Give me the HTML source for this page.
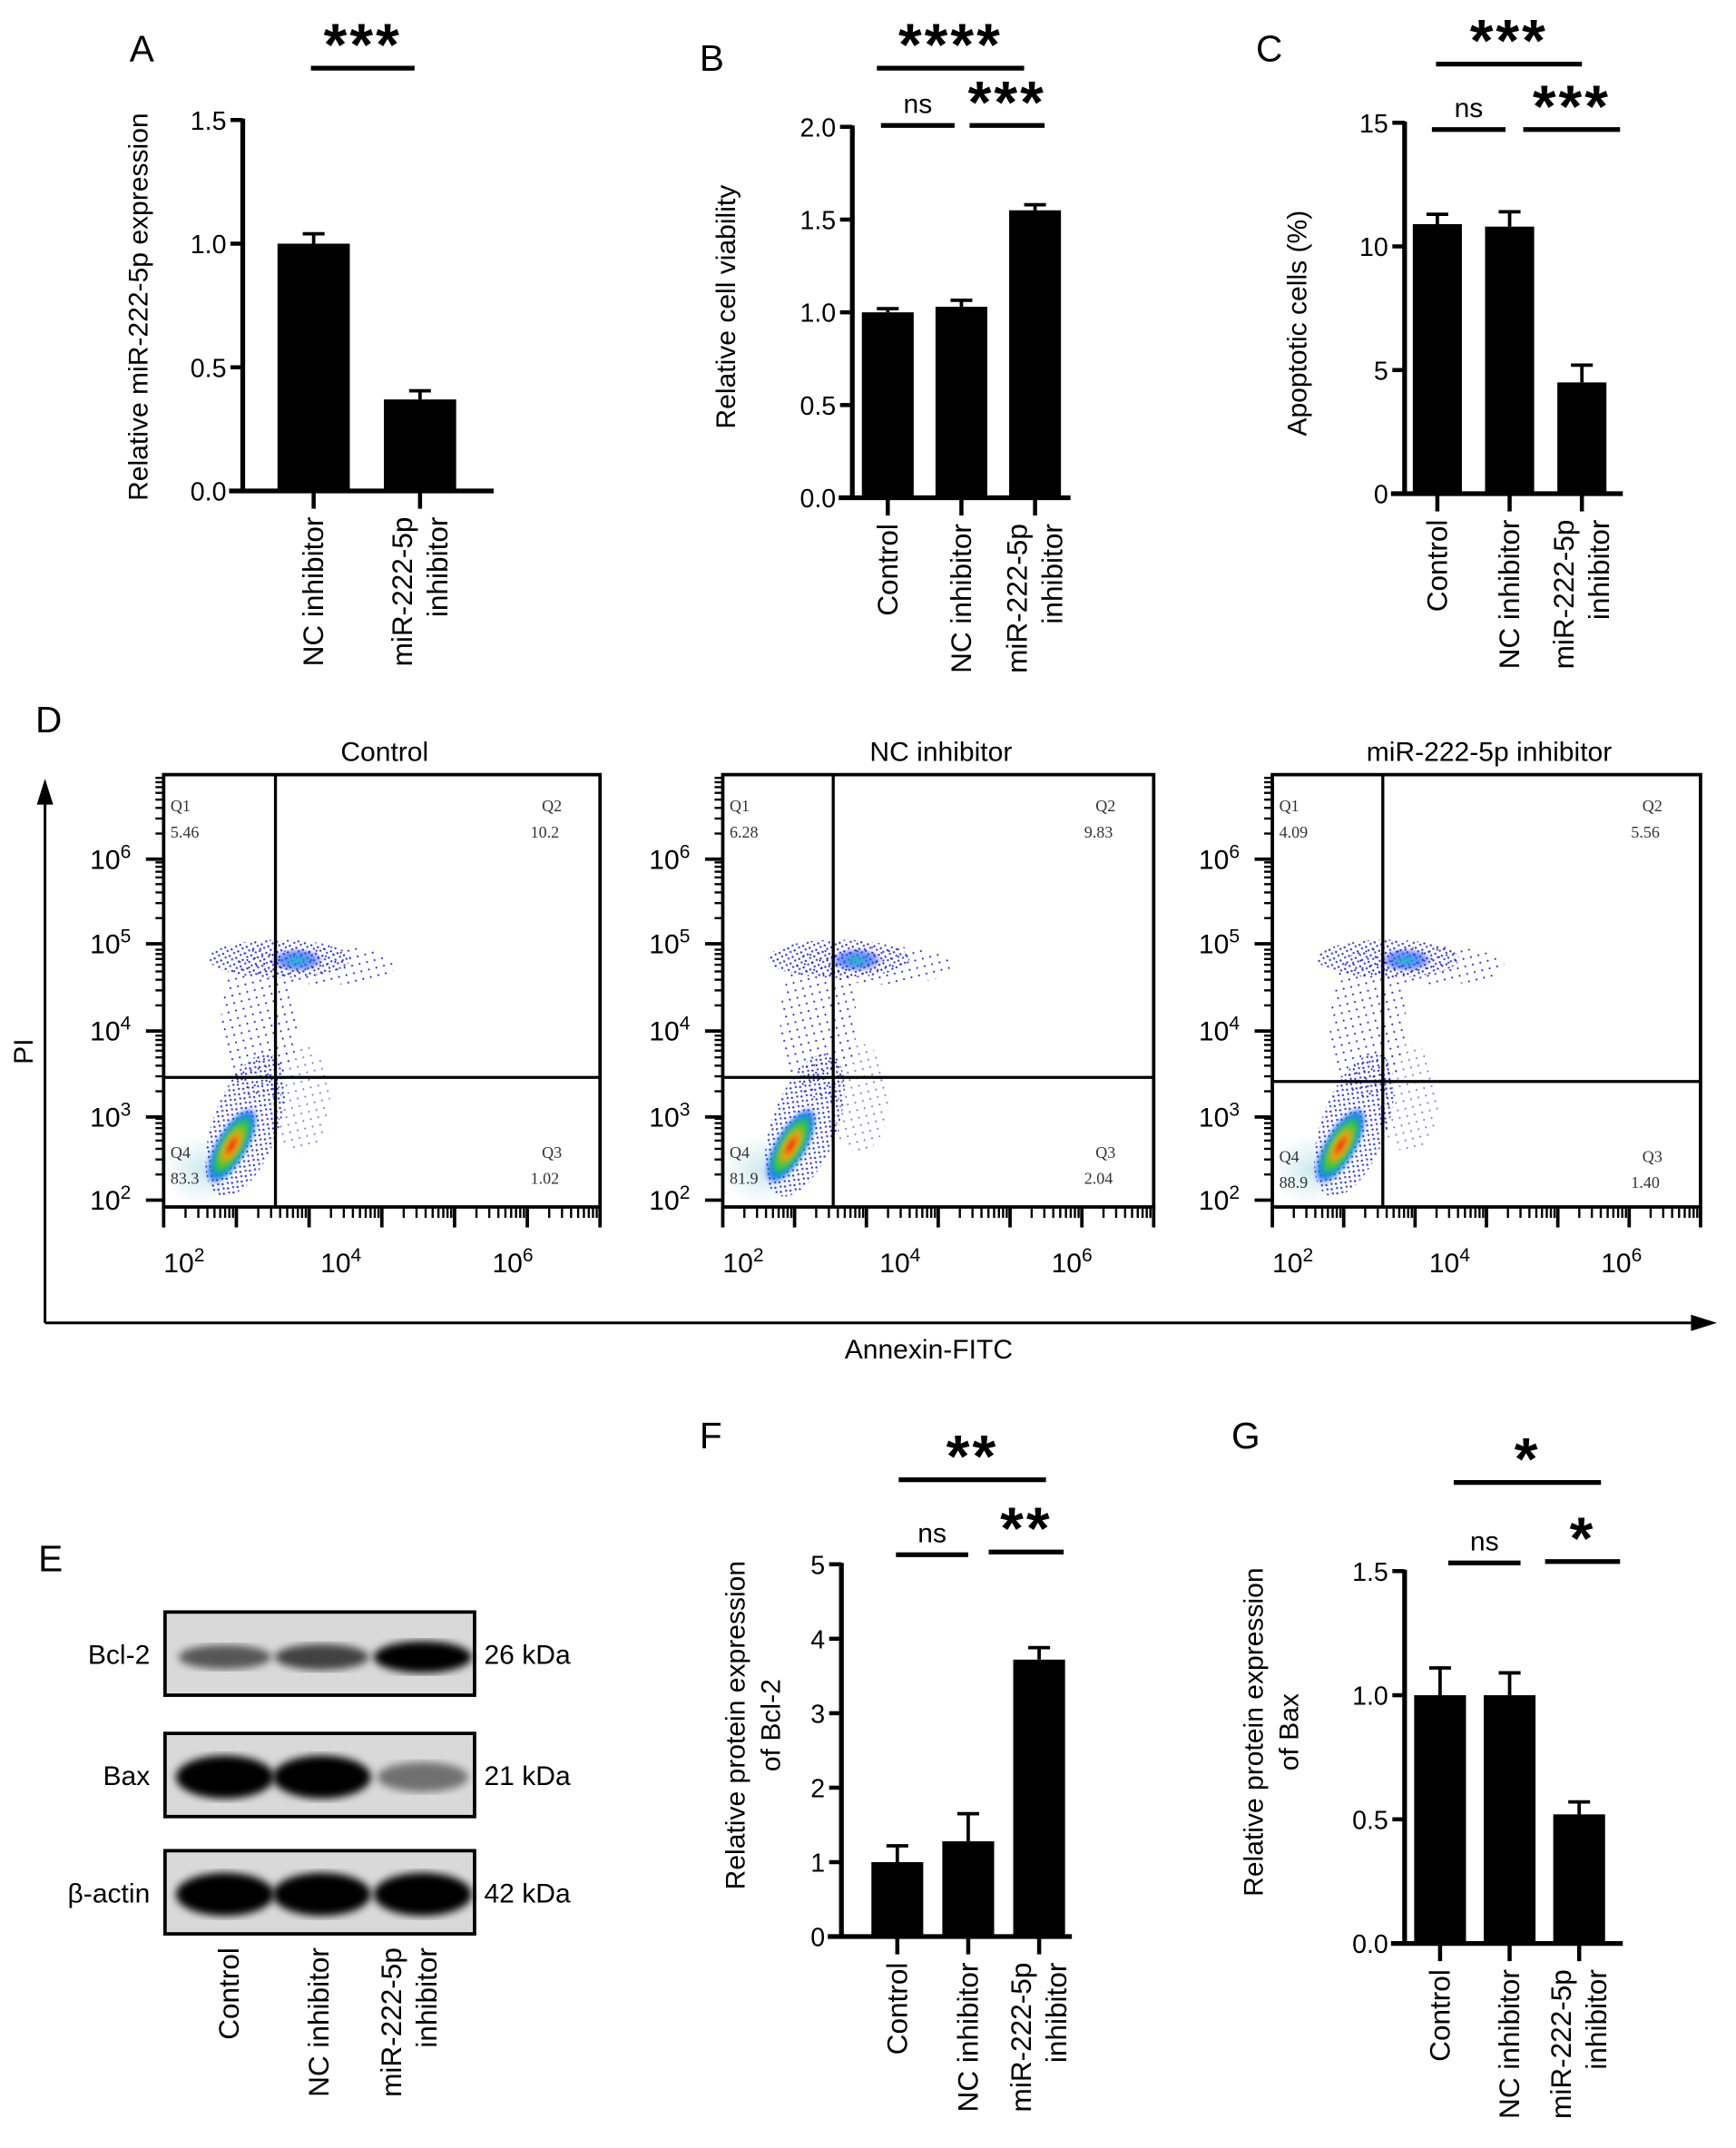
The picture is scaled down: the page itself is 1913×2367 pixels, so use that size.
<!DOCTYPE html>
<html><head><meta charset="utf-8"><style>
html,body{margin:0;padding:0;background:#fff;}
svg{display:block;font-family:"Liberation Sans",sans-serif;}
</style></head><body>
<svg id="fig" width="1913" height="2367" viewBox="0 0 1273 1575" preserveAspectRatio="none" xmlns="http://www.w3.org/2000/svg">
<defs>
<pattern id="dots" width="5" height="5" patternUnits="userSpaceOnUse" patternTransform="rotate(17)"><circle cx="1" cy="1" r="0.8" fill="#1a1aee"/><circle cx="3.5" cy="3" r="0.8" fill="#2233dd"/></pattern>
<pattern id="dotsS" width="8" height="8" patternUnits="userSpaceOnUse" patternTransform="rotate(31)"><circle cx="2" cy="2" r="0.7" fill="#2222ee"/><circle cx="6" cy="6" r="0.7" fill="#2222ee"/></pattern>
<radialGradient id="core"><stop offset="0" stop-color="#ee1111"/><stop offset="0.3" stop-color="#f0a010"/><stop offset="0.55" stop-color="#33cc33"/><stop offset="0.8" stop-color="#1188ee"/><stop offset="1" stop-color="#2222ee" stop-opacity="0"/></radialGradient>
<radialGradient id="haze"><stop offset="0" stop-color="#cfe9f0"/><stop offset="1" stop-color="#cfe9f0" stop-opacity="0"/></radialGradient>
<radialGradient id="upcore"><stop offset="0" stop-color="#22bbcc"/><stop offset="0.6" stop-color="#2255ee" stop-opacity="0.6"/><stop offset="1" stop-color="#2222ee" stop-opacity="0"/></radialGradient>
<filter id="blur"><feGaussianBlur stdDeviation="3"/></filter>
<filter id="blur2"><feGaussianBlur stdDeviation="1.5"/></filter>
</defs>
<g id="root"></g>
</svg>
<script>
// ---- Panel A data ----
const catsA = ["NC inhibitor", "miR-222-5p|inhibitor"];
const valsA = [1.0, 0.37];
const errA = [0.04, 0.035];
const ticksA = [0, 0.5, 1.0, 1.5];
// ---- Panel B data ----
const catsB = ["Control", "NC inhibitor", "miR-222-5p|inhibitor"];
const valsB = [1.0, 1.03, 1.55];
const errB = [0.02, 0.035, 0.03];
const ticksB = [0, 0.5, 1.0, 1.5, 2.0];
// ---- Panel C data ----
const catsC = ["Control", "NC inhibitor", "miR-222-5p|inhibitor"];
const valsC = [10.9, 10.8, 4.5];
const errC = [0.4, 0.6, 0.7];
const ticksC = [0, 5, 10, 15];
// ---- Panel F data ----
const catsF = ["Control", "NC inhibitor", "miR-222-5p|inhibitor"];
const valsF = [1.0, 1.28, 3.72];
const errF = [0.22, 0.37, 0.16];
const ticksF = [0, 1, 2, 3, 4, 5];
// ---- Panel G data ----
const catsG = ["Control", "NC inhibitor", "miR-222-5p|inhibitor"];
const valsG = [1.0, 1.0, 0.52];
const errG = [0.11, 0.09, 0.05];
const ticksG = [0, 0.5, 1.0, 1.5];
// ---- Flow quadrant data ----
const flowTitles = ["Control", "NC inhibitor", "miR-222-5p inhibitor"];
const q1Vals = ["5.46", "6.28", "4.09"];
const q2Vals = ["10.2", "9.83", "5.56"];
const q3Vals = ["1.02", "2.04", "1.40"];
const q4Vals = ["83.3", "81.9", "88.9"];
// ---- Blot band intensities ----
const blotRows = ["Bcl-2", "Bax", "β-actin"];
const blotKDa = ["26 kDa", "21 kDa", "42 kDa"];
const bandBcl2 = [0.5, 0.62, 1.0];
const bandBax = [1.0, 1.0, 0.35];
const bandActin = [1.0, 1.0, 1.0];

const NS = "http://www.w3.org/2000/svg";
const root = document.getElementById("root");
function mk(tag, attrs, parent, text){
  const e = document.createElementNS(NS, tag);
  for (const k in attrs) e.setAttribute(k, attrs[k]);
  if (text !== undefined) e.textContent = text;
  (parent || root).appendChild(e);
  return e;
}
function fmt(t, dec){ return dec ? t.toFixed(1) : String(t); }

function barChart(o){
  const g = mk("g", {});
  
  
  const y = v => o.y0 - (v - o.tmin) / (o.tmax - o.tmin) * (o.y0 - o.y1);
  const xc = i => o.xFirst + i * o.step;
  o.vals.forEach((v, i) => {
    const b = mk("rect", {x: xc(i) - o.bw/2, y: y(v), width: o.bw, height: o.y0 - y(v), fill: "#000"}, g);
    
    
    const top = y(v + o.err[i]);
    const e = mk("path", {d: `M${xc(i)} ${y(v)}V${top}M${xc(i)-8} ${top}H${xc(i)+8}`, stroke: "#000", "stroke-width": 2.5, fill: "none"}, g);
    
    
  });
  const ya = mk("line", {x1: o.ax, y1: o.y1 - 1, x2: o.ax, y2: o.y0, stroke: "#000", "stroke-width": 3.5}, g);
  
  
  const xa = mk("line", {x1: o.ax - 10, y1: o.y0, x2: o.xEnd, y2: o.y0, stroke: "#000", "stroke-width": 3.5}, g);
  
  
  o.ticks.forEach(t => {
    mk("line", {x1: o.ax - 9, y1: y(t), x2: o.ax, y2: y(t), stroke: "#000", "stroke-width": 3}, g);
    const tl = mk("text", {x: o.ax - 12, y: y(t) + 7, "text-anchor": "end", "font-size": 19}, g, fmt(t, o.dec));
    
    
  });
  o.cats.forEach((c, i) => {
    mk("line", {x1: xc(i), y1: o.y0, x2: xc(i), y2: o.y0 + 13, stroke: "#000", "stroke-width": 3}, g);
    const parts = c.split("|");
    parts.forEach((p, j) => {
      const xx = xc(i) + (parts.length === 2 ? (j === 0 ? -6 : 20) : 7);
      const t = mk("text", {x: xx, y: o.y0 + 19, transform: `rotate(-90 ${xx} ${o.y0 + 19})`, "text-anchor": "end", "font-size": 21}, g, p);
      
      
    });
  });
  o.title.forEach((tt, j) => {
    const tx = o.titleX + j * 26;
    const t = mk("text", {x: tx, y: o.titleY, transform: `rotate(-90 ${tx} ${o.titleY})`, "text-anchor": "middle", "font-size": 20}, g, tt);
    
    
  });
  const L = mk("text", {x: o.letter[1], y: o.letter[2], "font-size": 27}, g, o.letter[0]);
  
  
  o.sig.forEach(s => {
    const l = mk("line", {x1: s[0], y1: s[2], x2: s[1], y2: s[2], stroke: "#000", "stroke-width": 3.5}, g);
    
    
    const isNs = s[3] === "ns";
    const t = mk("text", {x: (s[0] + s[1]) / 2, y: isNs ? s[2] - 9 : s[2] - 2, "text-anchor": "middle", "font-size": isNs ? 20 : 44, "font-weight": isNs ? "normal" : "bold", "letter-spacing": isNs ? 0 : 2}, g, s[3]);
    
    
  });
}

barChart({name:"panel-a-chart", vals: valsA, err: errA, cats: catsA, ticks: ticksA, tmin: 0, tmax: 1.5, dec: true,
  ax: 178, y0: 360, y1: 88, xFirst: 230, step: 78, bw: 53, xEnd: 362,
  title: ["Relative miR-222-5p expression"], titleX: 108, titleY: 225, letter: ["A", 95, 45],
  sig: [[228, 304, 50, "***"]]});
barChart({name:"panel-b-chart", vals: valsB, err: errB, cats: catsB, ticks: ticksB, tmin: 0, tmax: 2, dec: true,
  ax: 625, y0: 365, y1: 93, xFirst: 651, step: 54, bw: 38, xEnd: 785,
  title: ["Relative cell viability"], titleX: 539, titleY: 225, letter: ["B", 513, 52],
  sig: [[646, 700, 92, "ns"], [711, 766, 92, "***"], [643, 751, 50, "****"]]});
barChart({name:"panel-c-chart", vals: valsC, err: errC, cats: catsC, ticks: ticksC, tmin: 0, tmax: 15, dec: false,
  ax: 1030, y0: 362, y1: 90, xFirst: 1054, step: 53, bw: 36, xEnd: 1190,
  title: ["Apoptotic cells (%)"], titleX: 958, titleY: 237, letter: ["C", 921, 45],
  sig: [[1050, 1104, 95, "ns"], [1117, 1188, 95, "***"], [1053, 1160, 47, "***"]]});
barChart({name:"panel-f-chart", vals: valsF, err: errF, cats: catsF, ticks: ticksF, tmin: 0, tmax: 5, dec: false,
  ax: 617, y0: 1420, y1: 1147, xFirst: 658, step: 52, bw: 38, xEnd: 786,
  title: ["Relative protein expression", "of Bcl-2"], titleX: 546, titleY: 1265, letter: ["F", 513, 1062],
  sig: [[657, 710, 1140, "ns"], [725, 780, 1138, "**"], [659, 767, 1085, "**"]]});
barChart({name:"panel-g-chart", vals: valsG, err: errG, cats: catsG, ticks: ticksG, tmin: 0, tmax: 1.5, dec: true,
  ax: 1030, y0: 1425, y1: 1152, xFirst: 1056, step: 51, bw: 38, xEnd: 1190,
  title: ["Relative protein expression", "of Bax"], titleX: 926, titleY: 1270, letter: ["G", 903, 1062],
  sig: [[1062, 1115, 1146, "ns"], [1133, 1188, 1145, "*"], [1066, 1174, 1087, "*"]]});

// ---- Panel D: flow cytometry ----
(function(){
  const g = mk("g", {});
  
  
  const L = mk("text", {x: 26, y: 537, "font-size": 27}, g, "D");
  
  
  mk("path", {d: "M33 970V585M33 970H1244", stroke: "#000", "stroke-width": 2, fill: "none"}, g);
  mk("path", {d: "M27 590L33 571L39 590Z", fill: "#000"}, g);
  mk("path", {d: "M1240 964L1259 970L1240 976Z", fill: "#000"}, g);
  const pi = mk("text", {x: 24, y: 771, transform: "rotate(-90 24 771)", "text-anchor": "middle", "font-size": 20}, g, "PI");
  
  
  const ax = mk("text", {x: 681, y: 996, "text-anchor": "middle", "font-size": 20}, g, "Annexin-FITC");
  
  
  const boxes = [[120, 440, 202, 790], [530, 846, 611, 790], [933, 1247, 1014, 793]];
  const decY = [880, 819, 756, 692, 630];
  const decLbl = ["2", "3", "4", "5", "6"];
  boxes.forEach((b, k) => {
    const [x0, x1, qx, qy] = b;
    const pg = mk("g", {}, g);
    
    
    const tt = mk("text", {x: (x0 + x1) / 2 + 2, y: 558, "text-anchor": "middle", "font-size": 20}, pg, flowTitles[k]);
    
    
    mk("ellipse", {cx: x0 + 28, cy: 858, rx: 28, ry: 26, fill: "url(#haze)"}, pg);
    mk("ellipse", {cx: x0 + 60, cy: 825, rx: 24, ry: 55, fill: "url(#dots)", transform: `rotate(20 ${x0+60} 825)`, opacity: 0.9}, pg);
    mk("ellipse", {cx: x0 + 50, cy: 840, rx: 12, ry: 32, fill: "url(#core)", transform: `rotate(30 ${x0+50} 840)`, filter: "url(#blur2)"}, pg);
    mk("ellipse", {cx: x0 + 70, cy: 750, rx: 28, ry: 55, fill: "url(#dotsS)"}, pg);
    mk("ellipse", {cx: x0 + 85, cy: 703, rx: 52, ry: 14, fill: "url(#dots)", opacity: 0.9}, pg);
    mk("ellipse", {cx: x0 + 120, cy: 708, rx: 50, ry: 14, fill: "url(#dotsS)"}, pg);
    mk("ellipse", {cx: x0 + 98, cy: 704, rx: 20, ry: 9, fill: "url(#upcore)"}, pg);
    mk("ellipse", {cx: x0 + 100, cy: 805, rx: 22, ry: 40, fill: "url(#dotsS)", opacity: 0.6}, pg);
    mk("rect", {x: x0, y: 568, width: x1 - x0, height: 317, fill: "none", stroke: "#000", "stroke-width": 2.5}, pg);
    mk("line", {x1: qx, y1: 568, x2: qx, y2: 885, stroke: "#000", "stroke-width": 2.2}, pg);
    mk("line", {x1: x0, y1: qy, x2: x1, y2: qy, stroke: "#000", "stroke-width": 2.2}, pg);
    for (let d = 0; d < 5; d++) {
      const yy = decY[d];
      mk("line", {x1: x0 - 13, y1: yy, x2: x0, y2: yy, stroke: "#000", "stroke-width": 2.5}, pg);
      for (let m = 2; m < 10; m++) {
        const ym = yy - Math.log10(m) * 62.5;
        mk("line", {x1: x0 - 6, y1: ym, x2: x0, y2: ym, stroke: "#000", "stroke-width": 1.6}, pg);
      }
      const tl = mk("text", {x: x0 - 54, y: yy + 7, "font-size": 20}, pg, "10");
      
      
      mk("tspan", {dy: -8, "font-size": 14}, tl, decLbl[d]);
    }
    const seg = (x1 - x0) / 6;
    for (let d = 0; d <= 6; d++) {
      const xx = x0 + d * seg;
      mk("line", {x1: xx, y1: 885, x2: xx, y2: 900, stroke: "#000", "stroke-width": 2.5}, pg);
      if (d < 6) for (let m = 2; m < 10; m++) {
        const xm = xx + Math.log10(m) * seg;
        mk("line", {x1: xm, y1: 885, x2: xm, y2: 893, stroke: "#000", "stroke-width": 1.6}, pg);
      }
    }
    [["2", 23], ["4", 138], ["6", 264]].forEach(p => {
      const tl = mk("text", {x: x0 + p[1] - 8, y: 933, "text-anchor": "middle", "font-size": 20}, pg, "10");
      
      
      mk("tspan", {dy: -8, "font-size": 14}, tl, p[0]);
    });
    const sf = {"font-family": "Liberation Serif, serif", "font-size": 12, fill: "#333"};
    const qdy = k === 2 ? 3 : 0;
    const put = (x, y, anchor, s, nm) => {
      const t = mk("text", Object.assign({x: x, y: y, "text-anchor": anchor}, sf), pg, s);
      
      
    };
    put(x0 + 5, 595, "start", "Q1", "quadrant-label");
    put(x0 + 5, 614, "start", q1Vals[k], "quadrant-value");
    put(x1 - 28, 595, "end", "Q2", "quadrant-label");
    put(x1 - 30, 614, "end", q2Vals[k], "quadrant-value");
    put(x0 + 5, 849 + qdy, "start", "Q4", "quadrant-label");
    put(x0 + 5, 868 + qdy, "start", q4Vals[k], "quadrant-value");
    put(x1 - 28, 849 + qdy, "end", "Q3", "quadrant-label");
    put(x1 - 30, 868 + qdy, "end", q3Vals[k], "quadrant-value");
  });
})();

// ---- Panel E: western blot ----
(function(){
  const g = mk("g", {});
  
  
  const L = mk("text", {x: 28, y: 1152, "font-size": 27}, g, "E");
  
  
  const rowsY = [1182, 1271, 1357];
  const intens = [bandBcl2, bandBax, bandActin];
  const lanes = [165, 236, 310];
  const bandH = [11, 15, 15];
  rowsY.forEach((ry, r) => {
    const bg = mk("rect", {x: 121, y: ry, width: 227, height: 61, fill: "#d9d9d9", stroke: "#000", "stroke-width": 2.5}, g);
    
    
    intens[r].forEach((v, i) => {
      const b = mk("ellipse", {cx: lanes[i], cy: ry + (r === 0 ? 33 : 32), rx: 32 + 4 * v, ry: bandH[r] * (0.55 + 0.5 * v), fill: "#000", opacity: 0.2 + 0.8 * v, filter: "url(#blur)"}, g);
      
      
    });
    const l = mk("text", {x: 110, y: ry + 38, "text-anchor": "end", "font-size": 20}, g, blotRows[r]);
    
    
    const kd = mk("text", {x: 355, y: ry + 38, "font-size": 20}, g, blotKDa[r]);
    
    
  });
  [[175, "Control"], [241, "NC inhibitor"], [294, "miR-222-5p"], [320, "inhibitor"]].forEach(p => {
    const t = mk("text", {x: p[0], y: 1428, transform: `rotate(-90 ${p[0]} 1428)`, "text-anchor": "end", "font-size": 21}, g, p[1]);
    
    
  });
})();
</script>
</body></html>
